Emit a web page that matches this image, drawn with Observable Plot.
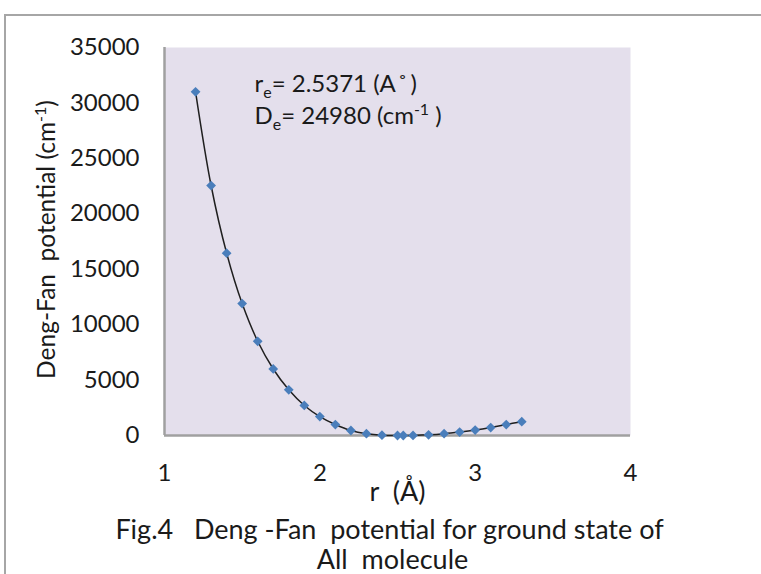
<!DOCTYPE html>
<html><head><meta charset="utf-8">
<script src="https://cdn.jsdelivr.net/npm/d3@7"></script>
<script src="https://cdn.jsdelivr.net/npm/@observablehq/plot@0.6"></script>
<style>
body{margin:0;background:#fff;}
#wrap{position:relative;width:761px;height:574px;overflow:hidden}
#border{position:absolute;left:4px;top:14px;width:800px;height:600px;border-top:2px solid #a6a6a6;border-left:2px solid #a6a6a6;}
#chart{position:absolute;left:0;top:0}
svg text{white-space:pre;}
</style></head><body>
<div id="wrap"><div id="border"></div><div id="chart"></div></div>
<script>
// r (Å)
const r = [1.2,1.3,1.4,1.5,1.6,1.7,1.8,1.9,2.0,2.1,2.2,2.3,2.4,2.5,2.5371,2.6,2.7,2.8,2.9,3.0,3.1,3.2,3.3];
// Deng-Fan potential (cm-1)
const V = [31000,22550,16450,11900,8500,6000,4120,2710,1710,990,450,160,25,0,0,10,60,160,310,490,720,990,1250];
const xTicks = [1,2,3,4];
const yTicks = [0,5000,10000,15000,20000,25000,30000,35000];
const annot1 = "re= 2.5371 (A˚)";
const annot2 = "De= 24980 (cm-1 )";
const yLabel = "Deng-Fan  potential (cm-1)";
const xLabel = "r  (Å)";
const caption1 = "Fig.4   Deng -Fan  potential for ground state of";
const caption2 = "All  molecule";

const data = r.map((d, i) => ({r: d, V: V[i]}));
const diamond = {draw(ctx, size) {const s = Math.sqrt(size / 2); ctx.moveTo(0, -s); ctx.lineTo(s, 0); ctx.lineTo(0, s); ctx.lineTo(-s, 0); ctx.closePath();}};
const F = "Lato, 'Open Sans', sans-serif";
const ink = "#1a1a1a";

const plot = Plot.plot({
  width: 761, height: 574,
  marginLeft: 164, marginRight: 131, marginTop: 47, marginBottom: 139,
  style: {fontFamily: F, fontSize: "24px", color: ink, background: "transparent"},
  x: {domain: [1, 4], ticks: xTicks, tickSize: 0, tickPadding: 28, label: null, tickFormat: d => String(d)},
  y: {domain: [0, 35000], ticks: yTicks, tickSize: 0, tickPadding: 25, label: null, tickFormat: d => String(d)},
  marks: [
    Plot.frame({fill: "#E4DFEC", stroke: null}),
    Plot.ruleX([1], {stroke: "#A0A0A0", strokeWidth: 2.5}),
    Plot.ruleY([0], {stroke: "#A0A0A0", strokeWidth: 2.5}),
    Plot.line(data, {x: "r", y: "V", curve: "catmull-rom", stroke: "#1f1f1f", strokeWidth: 1.5}),
    Plot.dot(data, {x: "r", y: "V", symbol: diamond, r: 3.9, fill: "#4A7EBB", stroke: null}),
    Plot.text([annot1], {text: d => d, frameAnchor: "top-left", dx: 90, dy: 44, textAnchor: "start", lineAnchor: "bottom", fontSize: 24, fill: ink}),
    Plot.text([annot2], {text: d => d, frameAnchor: "top-left", dx: 90, dy: 76, textAnchor: "start", lineAnchor: "bottom", fontSize: 24, fill: ink}),
    Plot.text([yLabel], {text: d => d, frameAnchor: "left", dx: -117, dy: -2, rotate: -90, textAnchor: "middle", lineAnchor: "middle", fontSize: 24.5, fill: ink}),
    Plot.text([xLabel], {text: d => d, frameAnchor: "bottom", dx: 0, dy: 65, textAnchor: "middle", lineAnchor: "bottom", fontSize: 27, fill: ink}),
    Plot.text([caption1], {text: d => d, frameAnchor: "bottom", dx: -8, dy: 103, textAnchor: "middle", lineAnchor: "bottom", fontSize: 27, fill: ink}),
    Plot.text([caption2], {text: d => d, frameAnchor: "bottom", dx: -5, dy: 133, textAnchor: "middle", lineAnchor: "bottom", fontSize: 27, fill: ink})
  ]
});
document.getElementById("chart").appendChild(plot);

// rich text (sub/superscripts)
function rich(str, parts) {
  d3.select(plot).selectAll("text").filter(function() { return this.textContent === str; }).each(function() {
    const t = d3.select(this);
    t.text(null);
    let shift = 0;
    for (const p of parts) {
      const s = t.append("tspan").text(p.t);
      const target = p.sub ? 6 : p.sup ? -9 : 0;
      if (target !== shift) { s.attr("dy", target - shift); shift = target; }
      if (p.sub || p.sup) s.attr("font-size", 16);
      if (p.dx) s.attr("dx", p.dx);
    }
  });
}
rich(annot1, [{t: "r"}, {t: "e", sub: true}, {t: "= 2.5371 (A"}, {t: "˚", dx: 2}, {t: ")", dx: 3}]);
rich(annot2, [{t: "D"}, {t: "e", sub: true}, {t: "= 24980 (cm"}, {t: "-1", sup: true}, {t: " )"}]);
rich(yLabel, [{t: "Deng-Fan  potential (cm"}, {t: "-1", sup: true}, {t: ")"}]);
</script>
</body></html>
